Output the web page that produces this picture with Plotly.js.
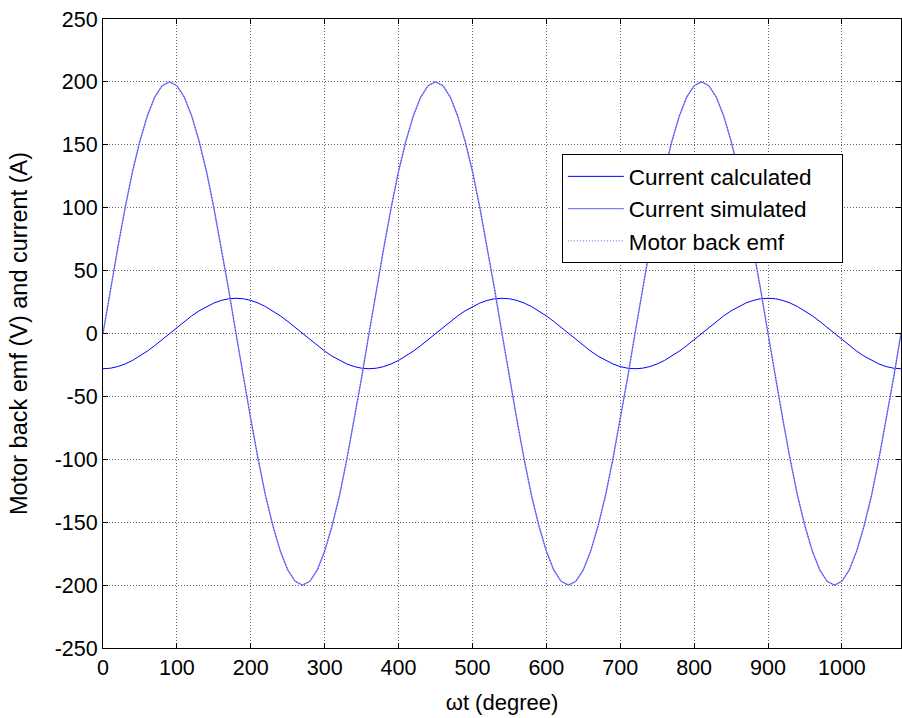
<!DOCTYPE html>
<html><head><meta charset="utf-8">
<script src="https://cdn.plot.ly/plotly-3.0.1.min.js"></script>
<style>html,body{margin:0;padding:0;background:#fff}#c{width:902px;height:718px}</style>
</head><body><div id="c"></div>
<script>
// electrical angle (degree), sampled every 10 degrees
var angle = [0,10,20,30,40,50,60,70,80,90,100,110,120,130,140,150,160,170,180,190,200,210,220,230,240,250,260,270,280,290,300,310,320,330,340,350,
360,370,380,390,400,410,420,430,440,450,460,470,480,490,500,510,520,530,540,550,560,570,580,590,600,610,620,630,640,650,660,670,680,690,700,710,
720,730,740,750,760,770,780,790,800,810,820,830,840,850,860,870,880,890,900,910,920,930,940,950,960,970,980,990,1000,1010,1020,1030,1040,1050,1060,1070,1080];
// small curve (A)
var currentCalculated = [-28,-27.6,-26.3,-24.2,-21.4,-18,-14,-9.6,-4.9,0,4.9,9.6,14,18,21.4,24.2,26.3,27.6,28,27.6,26.3,24.2,21.4,18,14,9.6,4.9,0,-4.9,-9.6,-14,-18,-21.4,-24.2,-26.3,-27.6,
-28,-27.6,-26.3,-24.2,-21.4,-18,-14,-9.6,-4.9,0,4.9,9.6,14,18,21.4,24.2,26.3,27.6,28,27.6,26.3,24.2,21.4,18,14,9.6,4.9,0,-4.9,-9.6,-14,-18,-21.4,-24.2,-26.3,-27.6,
-28,-27.6,-26.3,-24.2,-21.4,-18,-14,-9.6,-4.9,0,4.9,9.6,14,18,21.4,24.2,26.3,27.6,28,27.6,26.3,24.2,21.4,18,14,9.6,4.9,0,-4.9,-9.6,-14,-18,-21.4,-24.2,-26.3,-27.6,-28];
// large curve (V)
var backEmf = [0,35,68,100,129,153,173,188,197,200,197,188,173,153,129,100,68,35,0,-35,-68,-100,-129,-153,-173,-188,-197,-200,-197,-188,-173,-153,-129,-100,-68,-35,
0,35,68,100,129,153,173,188,197,200,197,188,173,153,129,100,68,35,0,-35,-68,-100,-129,-153,-173,-188,-197,-200,-197,-188,-173,-153,-129,-100,-68,-35,
0,35,68,100,129,153,173,188,197,200,197,188,173,153,129,100,68,35,0,-35,-68,-100,-129,-153,-173,-188,-197,-200,-197,-188,-173,-153,-129,-100,-68,-35,0];
var xTicks = [0,100,200,300,400,500,600,700,800,900,1000];
var yTicks = [-250,-200,-150,-100,-50,0,50,100,150,200,250];
var seriesNames = ['Current calculated\u00a0\u00a0\u00a0\u00a0', 'Current simulated', 'Motor back emf'];

var F = 'Liberation Sans, Arial, sans-serif';
var traces = [
  {x: angle, y: currentCalculated, name: seriesNames[0], mode: 'lines', line: {color: '#0000ff', width: 1}},
  {x: angle, y: backEmf, name: seriesNames[1], mode: 'lines', line: {color: '#8080ff', width: 1.4}},
  {x: angle, y: backEmf, name: seriesNames[2], mode: 'lines', line: {color: '#1a1acc', width: 0.7, dash: '1px,2px'}}
];
var axisCommon = {showline: true, linecolor: '#000', linewidth: 1, mirror: 'ticks', ticks: 'inside', ticklen: 5, tickcolor: '#000',
  showgrid: true, gridcolor: '#666', griddash: '1px,2px', gridwidth: 1, zeroline: false, tickfont: {family: F, size: 21.5, color: '#000'}};
var layout = {
  width: 902, height: 718, paper_bgcolor: '#fff', plot_bgcolor: '#fff',
  margin: {l: 103, r: 1, t: 19, b: 70},
  showlegend: true,
  font: {family: F, color: '#000'},
  xaxis: Object.assign({}, axisCommon, {range: [0, 1080], tickvals: xTicks, ticktext: xTicks.map(String),
    title: {text: 'ωt (degree)', font: {family: F, size: 22}, standoff: 15}}),
  yaxis: Object.assign({}, axisCommon, {range: [-250, 250], tickvals: yTicks, ticktext: yTicks.map(String),
    title: {text: 'Motor back emf (V) and current (A)', font: {family: F, size: 23.5}, standoff: 20}}),
  legend: {x: 0.575, y: 0.785, xanchor: 'left', yanchor: 'top', bgcolor: '#fff', bordercolor: '#000', borderwidth: 1,
    font: {family: F, size: 22.5, color: '#000'}, itemwidth: 56, tracegroupgap: 0}
};
Plotly.newPlot('c', traces, layout, {displayModeBar: false, staticPlot: true});
</script></body></html>
